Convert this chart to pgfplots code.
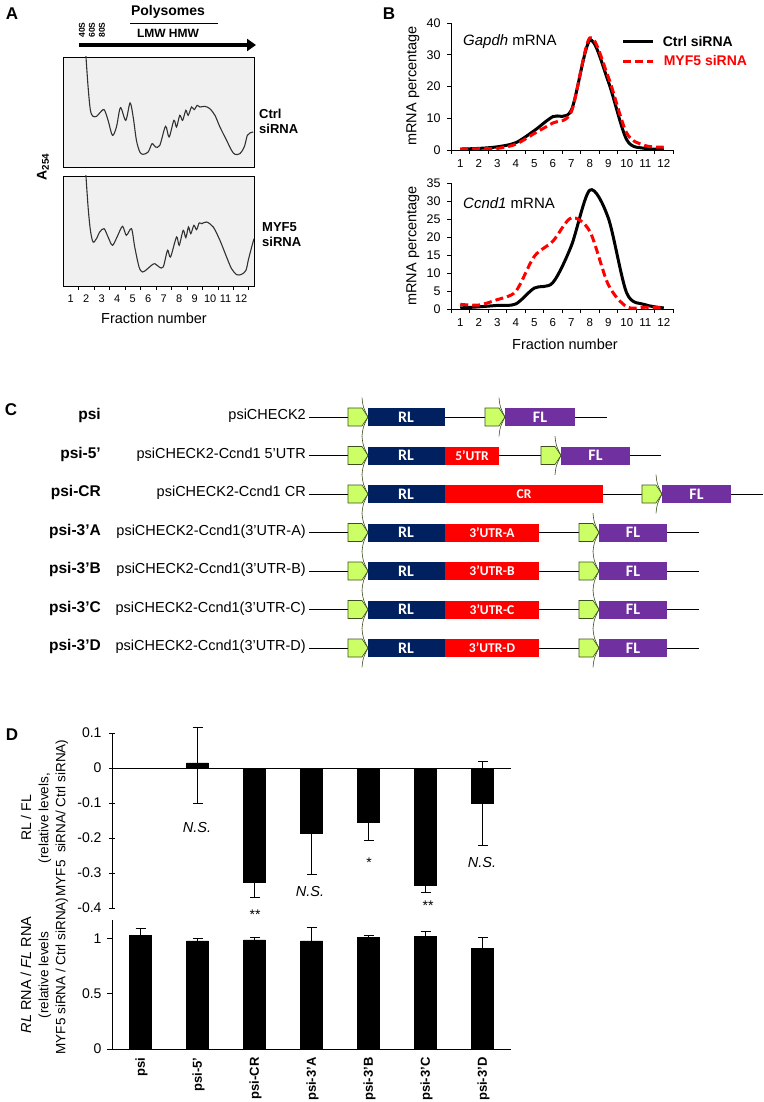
\documentclass[border=0pt]{standalone}
\usepackage{fontspec}
\setmainfont{Liberation Sans}
\newfontfamily\carlito{Carlito}
\usepackage{pgfplots}
\pgfplotsset{compat=1.18}
\usetikzlibrary{arrows.meta}

\definecolor{navyrl}{RGB}{0,32,96}
\definecolor{flpurple}{RGB}{112,48,160}
\definecolor{utrred}{RGB}{255,0,0}
\definecolor{promgreen}{RGB}{204,255,102}
\definecolor{promedge}{RGB}{60,80,30}
\definecolor{trace}{RGB}{50,50,50}

\newcommand{\fs}[1]{\fontsize{#1}{#1}\selectfont}
% promoter arrow: #1 = left x, #2 = row y (pixel units, y down)
\newcommand{\prom}[2]{%
  \filldraw[fill=promgreen, draw=promedge, line width=0.6pt]
    (#1,{#2-9}) -- ({#1+14},{#2-9}) -- ({#1+20},#2) -- ({#1+14},{#2+9}) -- (#1,{#2+9}) -- cycle;
  \draw[promedge, line width=0.6pt]
    ({#1+14},{#2-19.3}) .. controls ({#1+15},{#2-10}) .. ({#1+20},#2)
    .. controls ({#1+15},{#2+10}) .. ({#1+14},{#2+19.3});
}

\pgfplotsset{
  every axis/.append style={
    scale only axis,
    /pgf/number format/assume math mode=true,
    axis line style={line width=0.8pt},
    tick style={black, line width=0.8pt},
  },
}

\begin{document}
\begin{tikzpicture}
\useasboundingbox (0,0) rectangle (763pt,-1102pt);

% ---------------- Panel A ----------------
\begin{axis}[at={(63pt,-57pt)}, anchor=north west, width=191pt, height=110pt,
  xmin=0.5, xmax=12.83, ymin=0, ymax=330, xtick=\empty, ytick=\empty,
  axis background/.style={fill=black!6}]
\addplot[trace, line width=1.1pt, smooth, tension=0.5] coordinates {
(1.94,360) (2.12,240) (2.27,170) (2.44,152) (2.66,152) (2.83,160) (3.15,172)
(3.41,140) (3.69,95) (3.95,120) (4.21,178) (4.55,140) (4.83,192) (5.03,150)
(5.24,80) (5.46,45) (5.67,38) (6.00,45) (6.25,70) (6.47,60) (6.75,65)
(7.12,122) (7.35,90) (7.66,140) (7.83,120) (8.04,155) (8.22,140) (8.43,170)
(8.58,155) (8.80,180) (8.97,172) (9.16,185) (9.34,180) (9.66,182) (9.98,175)
(10.31,155) (10.63,120) (11.06,80) (11.38,50) (11.60,38) (11.92,40)
(12.20,60) (12.40,95) (12.57,102) (12.78,105)};
\end{axis}

\begin{axis}[at={(63pt,-176pt)}, anchor=north west, width=191pt, height=110pt,
  xmin=0.5, xmax=12.83, ymin=0, ymax=330, ytick=\empty,
  xtick={1,...,12}, major tick length=0pt,
  minor xtick={1.5,2.5,...,12.5}, minor tick length=4pt,
  tick align=outside, xtick pos=left,
  xticklabel style={font=\fs{11}, yshift=-5pt},
  axis background/.style={fill=black!6}]
\addplot[trace, line width=1.1pt, smooth, tension=0.5] coordinates {
(1.94,360) (2.12,237) (2.27,167) (2.44,132) (2.66,142) (2.87,162) (3.15,172)
(3.41,147) (3.69,122) (3.99,147) (4.34,179) (4.59,152) (4.92,172) (5.13,117)
(5.41,57) (5.63,42) (5.89,49) (6.21,62) (6.43,67) (6.71,57) (6.97,57)
(7.25,107) (7.44,87) (7.83,147) (8.00,122) (8.26,167) (8.43,145) (8.60,177)
(8.75,157) (8.95,182) (9.12,169) (9.29,189) (9.46,187) (9.77,192)
(10.20,177) (10.63,137) (11.06,87) (11.38,52) (11.71,34) (12.03,35)
(12.31,47) (12.46,77) (12.68,117) (12.83,142)};
\end{axis}

% ---------------- Panel B ----------------
\begin{axis}[at={(451pt,-150pt)}, anchor=south west, width=222pt, height=127pt,
  xmin=0.5, xmax=12.5, ymin=0, ymax=40, axis lines*=left,
  xtick={1,...,12}, ytick={0,10,...,40},
  major x tick style={draw=none}, major tick length=4pt,
  minor xtick={0.5,1.5,...,12.5}, minor tick length=4pt, tick align=outside,
  xticklabel style={font=\fs{11.5}, yshift=-2pt},
  yticklabel style={font=\fs{12.5}, xshift=-3pt},
  legend style={at={(0.755,0.93)}, anchor=north west, draw=none, fill=none,
    font=\bfseries\fs{14}, row sep=4pt, cells={anchor=west}},
  legend image code/.code={\draw[#1] (0pt,0pt) -- (30pt,0pt);}]
\addplot[black, line width=3pt, smooth] coordinates {
(1,0.3) (2,0.5) (3,1.0) (4,2.3) (5,6.1) (6,10.5) (7,12.5) (8,34.5) (9,21.6) (10,3.2) (11,0.5) (12,0.3)};
\addlegendentry{\hspace{6pt}Ctrl siRNA}
\addplot[red, line width=3pt, dash pattern=on 8pt off 4pt, smooth] coordinates {
(1,0.2) (2,0.4) (3,0.5) (4,1.8) (5,5.2) (6,8.5) (7,12.0) (8,35.3) (9,23.0) (10,5.3) (11,1.4) (12,0.9)};
\addlegendentry{\hspace{7pt}\textcolor{red}{MYF5 siRNA}}
\end{axis}

\begin{axis}[at={(451pt,-309pt)}, anchor=south west, width=222pt, height=126pt,
  xmin=0.5, xmax=12.5, ymin=0, ymax=35, axis lines*=left,
  xtick={1,...,12}, ytick={0,5,...,35},
  major x tick style={draw=none}, major tick length=4pt,
  minor xtick={0.5,1.5,...,12.5}, minor tick length=4pt, tick align=outside,
  xticklabel style={font=\fs{11.5}, yshift=-2pt},
  yticklabel style={font=\fs{12.5}, xshift=-3pt}]
\addplot[black, line width=3pt, smooth] coordinates {
(1,0.3) (2,0.6) (3,1.0) (4,1.4) (5,5.8) (6,7.3) (7,17.5) (8,33.0) (9,25.3) (10,4.4) (11,1.2) (12,0.3)};
\addplot[red, line width=3pt, dash pattern=on 8pt off 4pt, smooth] coordinates {
(1,1.3) (2,1.1) (3,2.6) (4,4.9) (5,14.6) (6,18.8) (7,25.3) (8,21.6) (9,6.8) (10,0.6) (11,0.5) (12,0.3)};
\end{axis}

% ---------------- Panel D ----------------
\begin{axis}[at={(112pt,-908pt)}, anchor=south west, width=399pt, height=175pt,
  xmin=-0.5, xmax=6.5, ymin=-0.4, ymax=0.1, clip=false,
  axis x line=none, axis y line*=left,
  ytick={-0.4,-0.3,-0.2,-0.1,0,0.1}, yticklabels={-0.4,-0.3,-0.2,-0.1,0,0.1},
  ytick align=center, major tick length=6pt,
  yticklabel style={font=\fs{14}, xshift=-4pt}]
\addplot[ybar, bar width=22pt, fill=black, draw=black,
  error bars/.cd, y dir=both, y explicit,
  error bar style={line width=0.8pt, black},
  error mark options={rotate=90, mark size=5pt, line width=0.8pt, black}]
  coordinates {(1,0.015) += (0,0.102) -= (0,0.115) (2,-0.326) +- (0,0.045) (3,-0.186) +- (0,0.118)
               (4,-0.154) +- (0,0.052) (5,-0.334) +- (0,0.021) (6,-0.100) +- (0,0.120)};
\draw[line width=0.8pt] (axis cs:-0.5,0) -- (axis cs:6.5,0);
\end{axis}

\begin{axis}[at={(112pt,-1049pt)}, anchor=south west, width=399pt, height=129pt,
  xmin=-0.5, xmax=6.5, ymin=0, ymax=1.17, axis lines*=left, clip=false,
  xtick={0,...,6}, xticklabels={psi,psi-5’,psi-CR,psi-3’A,psi-3’B,psi-3’C,psi-3’D},
  major x tick style={draw=none},
  ytick={0,0.5,1}, yticklabels={0,0.5,1}, tick align=outside, major tick length=5pt,
  xticklabel style={rotate=90, anchor=east, font=\bfseries\fs{13}, yshift=-1pt},
  yticklabel style={font=\fs{14}, xshift=-2pt}]
\addplot[ybar, bar width=22pt, fill=black, draw=black,
  error bars/.cd, y dir=both, y explicit,
  error bar style={line width=0.8pt, black},
  error mark options={rotate=90, mark size=5pt, line width=0.8pt, black}]
  coordinates {(0,1.03) +- (0,0.06) (1,0.98) +- (0,0.02) (2,0.99) +- (0,0.02)
               (3,0.98) +- (0,0.12) (4,1.01) +- (0,0.02) (5,1.02) +- (0,0.05) (6,0.91) +- (0,0.10)};
\end{axis}

% ---------------- text, panel C ----------------
\begin{scope}[x=1pt, y=-1pt, every node/.style={inner sep=0pt}]
% panel letters
\node[font=\bfseries\fs{17}] at (12,14) {A};
\node[font=\bfseries\fs{17}] at (389,14) {B};
\node[font=\bfseries\fs{17}] at (11,410) {C};
\node[font=\bfseries\fs{17}] at (12,735) {D};

% panel A annotations
\node[rotate=90, font=\bfseries\fs{8.5}] at (82,30) {40S};
\node[rotate=90, font=\bfseries\fs{8.5}] at (92,30) {60S};
\node[rotate=90, font=\bfseries\fs{8.5}] at (102,30) {80S};
\node[font=\bfseries\fs{14}] at (168,12) {Polysomes};
\draw[line width=0.8pt] (130,23) -- (218,23);
\node[font=\bfseries\fs{12}] at (168,33) {LMW HMW};
\draw[line width=3.5pt, -{Triangle[length=9pt, width=12pt]}] (79,45) -- (256,45);
\node[rotate=90, font=\bfseries\fs{14}] at (43,167) {A\textsubscript{254}};
\node[anchor=west, align=left, font=\bfseries\fontsize{13}{15}\selectfont] at (259,121) {Ctrl\\siRNA};
\node[anchor=west, align=left, font=\bfseries\fontsize{13}{15}\selectfont] at (262,235) {MYF5\\siRNA};
\node[font=\fs{14.5}] at (154,318) {Fraction number};

% panel B annotations
\node[rotate=90, font=\fs{14.5}] at (413,86) {mRNA percentage};
\node[rotate=90, font=\fs{14.5}] at (413,246) {mRNA percentage};
\node[anchor=west, font=\fs{15}] at (463,42) {\textit{Gapdh} mRNA};
\node[anchor=west, font=\fs{15}] at (463,203) {\textit{Ccnd1} mRNA};
\node[font=\fs{14.5}] at (565,344) {Fraction number};

% panel C: backbone lines
\foreach \y/\a/\b/\c/\d in {417/445/485/575/607, 455.5/499/541/630/661, 494/603/642/731/763,
   532.5/539/579/667/699, 571/539/579/667/699, 609.5/539/579/667/699, 648/539/579/667/699}{
  \draw[line width=0.8pt] (309,\y) -- (348,\y);
  \draw[line width=0.8pt] (\a,\y) -- (\b,\y);
  \draw[line width=0.8pt] (\c,\y) -- (\d,\y);
}
% RL boxes
\foreach \y in {417,455.5,494,532.5,571,609.5,648}{
  \fill[navyrl] (368,{\y-9}) rectangle (445,{\y+9});
  \node[white, font=\carlito\bfseries\fs{16}] at (406,\y) {RL};
}
% insert boxes
\fill[utrred] (445,446.5) rectangle (499,464.5);
\node[white, font=\carlito\bfseries\fs{13.5}] at (472,455.5) {5’UTR};
\fill[utrred] (445,485) rectangle (603,503);
\node[white, font=\carlito\bfseries\fs{13.5}] at (524,494) {CR};
\foreach \y/\t in {532.5/A,571/B,609.5/C,648/D}{
  \fill[utrred] (445,{\y-9}) rectangle (539,{\y+9});
  \node[white, font=\carlito\bfseries\fs{13.5}] at (492,\y) {3’UTR-\t};
}
% FL boxes
\foreach \y/\s/\e in {417/505/575, 455.5/561/630, 494/662/731, 532.5/599/667, 571/599/667, 609.5/599/667, 648/599/667}{
  \fill[flpurple] (\s,{\y-9}) rectangle (\e,{\y+9});
  \node[white, font=\carlito\bfseries\fs{16}] at ({(\s+\e)/2},\y) {FL};
}
% promoters
\foreach \y in {417,455.5,494,532.5,571,609.5,648}{ \prom{348}{\y} }
\prom{485}{417}
\prom{541}{455.5}
\prom{642}{494}
\foreach \y in {532.5,571,609.5,648}{ \prom{579}{\y} }

% row labels and construct names
\foreach \y/\l/\n in {417/psi/psiCHECK2, 455.5/psi-5’/psiCHECK2-Ccnd1 5’UTR, 494/psi-CR/psiCHECK2-Ccnd1 CR,
   532.5/psi-3’A/psiCHECK2-Ccnd1(3’UTR-A), 571/psi-3’B/psiCHECK2-Ccnd1(3’UTR-B),
   609.5/psi-3’C/psiCHECK2-Ccnd1(3’UTR-C), 648/psi-3’D/psiCHECK2-Ccnd1(3’UTR-D)}{
  \node[anchor=mid east, font=\bfseries\fs{15.5}] at (101,\y) {\l};
  \node[anchor=mid east, font=\fs{14.5}] at (306,\y) {\n};
}

% panel D annotations
\node[rotate=90, font=\fs{14}] at (26,818) {RL / FL};
\node[rotate=90, font=\fs{13.5}] at (45,818) {(relative levels,};
\node[rotate=90, font=\fs{13.5}] at (62,818) {MYF5\ \ siRNA/ Ctrl siRNA)};
\node[rotate=90, font=\fs{14.5}] at (26,975) {\textit{RL} RNA / \textit{FL} RNA};
\node[rotate=90, font=\fs{13.5}] at (45,975) {(relative levels};
\node[rotate=90, font=\fs{13.5}] at (62,976) {MYF5 siRNA / Ctrl siRNA)};
\node[font=\itshape\fs{14.5}] at (197,827) {N.S.};
\node[font=\fs{14}] at (255,915) {**};
\node[font=\itshape\fs{14.5}] at (310,891) {N.S.};
\node[font=\fs{14}] at (369,863) {*};
\node[font=\fs{14}] at (428,906) {**};
\node[font=\itshape\fs{14.5}] at (482,862) {N.S.};
\end{scope}
\end{tikzpicture}
\end{document}
